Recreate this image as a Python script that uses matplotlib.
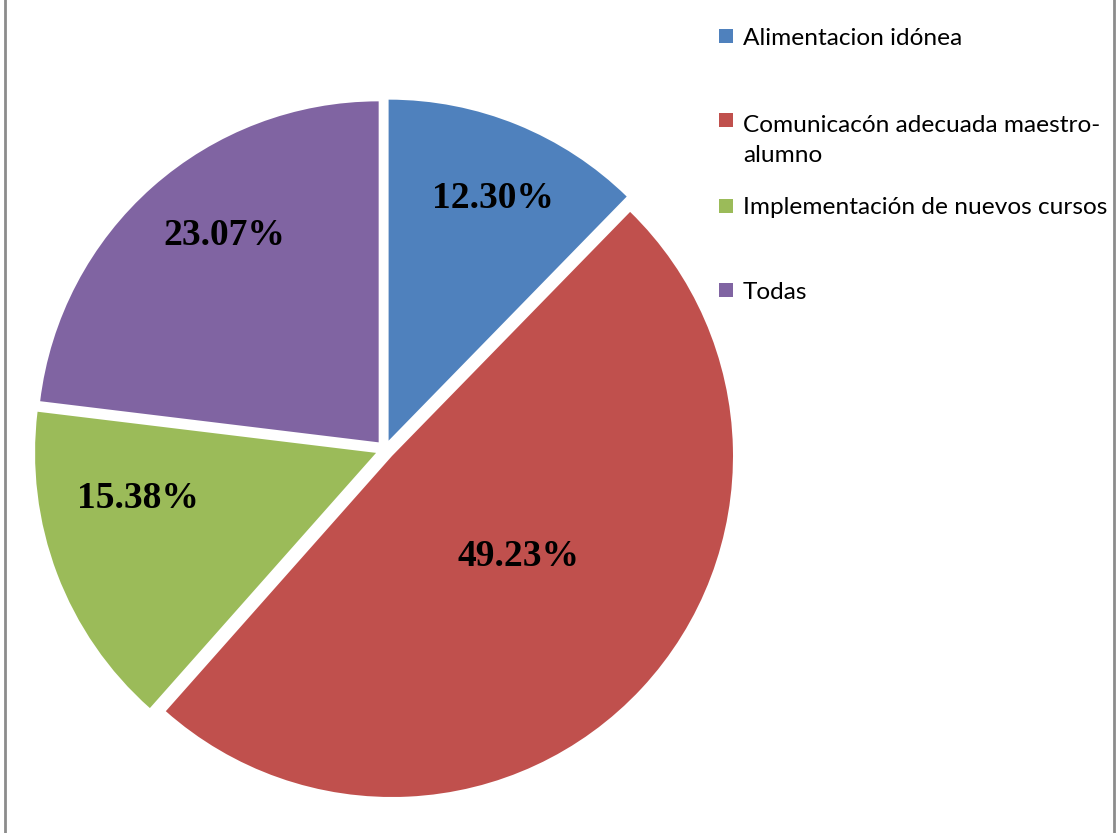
import matplotlib
matplotlib.use("Agg")
import matplotlib.pyplot as plt
from matplotlib.patches import Rectangle

categories = ["Alimentacion idónea",
              "Comunicacón adecuada maestro-\nalumno",
              "Implementación de nuevos cursos",
              "Todas"]
values = [12.30, 49.23, 15.38, 23.07]
pct_labels = ["12.30%", "49.23%", "15.38%", "23.07%"]
colors = ["#4F81BD", "#C0504D", "#9BBB59", "#8064A2"]

# label spots inside the slices (data units, radius = 1)
label_pos = [(0.316, 0.737), (0.392, -0.313), (-0.724, -0.144), (-0.472, 0.629)]

W, H = 1118, 833
fig = plt.figure(figsize=(W / 100, H / 100), dpi=100)

# pie axes: center at (385, 449.5) px, radius 341 px
cx, cy, R = 385, 449.5, 341
half = 380
ax = fig.add_axes([(cx - half) / W, (H - cy - half) / H, 2 * half / W, 2 * half / H])
wedges, _ = ax.pie(values, colors=colors, startangle=90, counterclock=False,
                   explode=[0.028] * 4, radius=1)
lim = half / R
ax.set_xlim(-lim, lim)
ax.set_ylim(-lim, lim)
ax.set_aspect("equal")
ax.axis("off")

for (x, y), txt in zip(label_pos, pct_labels):
    ax.text(x, y, txt, ha="center", va="center", fontsize=27, fontweight="bold",
            family="Liberation Serif", color="black")

# legend drawn by hand to copy the uneven spacing
# (baseline of the last line of each entry)
baselines = [45, 162, 214, 299]
box_centers = [36, 120, 206, 290]
for lab, col, yb, yc in zip(categories, colors, baselines, box_centers):
    fig.patches.append(Rectangle((719 / W, (H - yc - 7) / H), 14 / W, 14 / H,
                                 facecolor=col, edgecolor="none",
                                 transform=fig.transFigure, figure=fig))
    fig.text(743 / W, (H - yb) / H, lab, ha="left", va="baseline", fontsize=17.6,
             family="Lato", color="black", linespacing=1.5)

# chart border (only the side edges show)
for xb in (5, 1114):
    fig.add_artist(plt.Line2D([xb / W, xb / W], [0, 1], color="#8c8c8c", lw=2,
                              transform=fig.transFigure))

fig.savefig("out.png", dpi=100, facecolor="white")
